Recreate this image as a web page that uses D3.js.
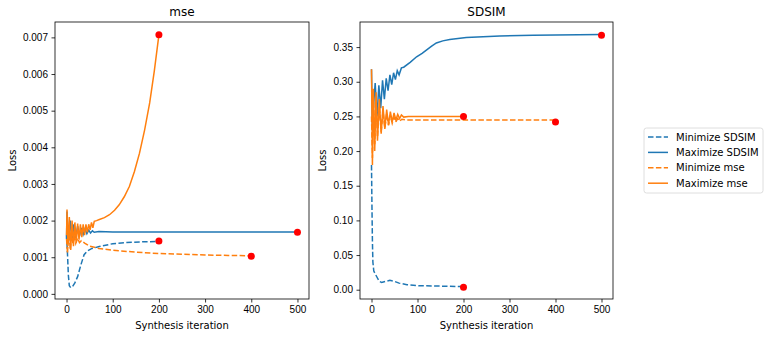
<!DOCTYPE html>
<meta charset="utf-8">
<svg width="769" height="338"></svg>

<style>
body { margin: 0; background: #fff; }
svg { display: block; font-family: "DejaVu Sans", sans-serif; }
.tick text { font-size: 10px; fill: #000; }
.tick line { stroke: #000; stroke-width: 0.8; }
.domain { display: none; }
.frame { fill: none; stroke: #000; stroke-width: 0.8; }
.loss-line { fill: none; stroke-width: 1.5; }
.dashed { stroke-dasharray: 5.5 2.4; }
</style>

<script src="https://d3js.org/d3.v7.min.js"></script>
<script>

// series names, in plot order
var seriesNames = ["Minimize SDSIM", "Maximize SDSIM", "Minimize mse", "Maximize mse"];
var seriesColors = ["#1f77b4", "#1f77b4", "#ff7f0e", "#ff7f0e"];
var seriesDashed = [true, false, true, false];

var xTicks = [0, 100, 200, 300, 400, 500];
var mseTicks = [0, 0.001, 0.002, 0.003, 0.004, 0.005, 0.006, 0.007];
var sdsimTicks = [0, 0.05, 0.10, 0.15, 0.20, 0.25, 0.30, 0.35];

// mse panel: [iteration, loss]
var mseMinSdsim = [[0,0.0016],[2,0.0011],[4,0.0005],[6,0.00022],[9,0.00017],[13,0.0002],[18,0.0003],
  [24,0.00047],[31,0.00079],[38,0.00107],[45,0.00117],[55,0.00124],[71,0.00129],[100,0.00137],
  [130,0.0014],[160,0.00142],[200,0.00143]];
var mseMaxSdsim = [[0,0.0015],[1,0.00225],[4,0.0014],[8,0.002],[12,0.00145],[16,0.0019],[20,0.00152],
  [24,0.00185],[28,0.00158],[32,0.0018],[36,0.00162],[40,0.00177],[44,0.00164],[48,0.00174],
  [52,0.00166],[56,0.00172],[60,0.00168],[70,0.0017],[100,0.00169],[500,0.00169]];
var mseMinMse = [[0,0.0015],[2,0.0011],[5,0.0018],[8,0.0012],[11,0.0017],[14,0.00135],[17,0.0016],
  [20,0.00138],[24,0.00152],[28,0.0014],[32,0.00145],[40,0.00138],[50,0.0013],[70,0.00124],
  [100,0.00119],[150,0.00114],[200,0.0011],[250,0.00108],[300,0.00106],[350,0.00105],[400,0.00104]];
var mseMaxMse = [[0,0.0016],[1,0.0023],[3,0.0013],[6,0.0021],[9,0.0012],[12,0.002],[15,0.0013],
  [18,0.00195],[21,0.0014],[24,0.00192],[27,0.00148],[30,0.0019],[33,0.00155],[36,0.0019],
  [39,0.0016],[42,0.0019],[45,0.00168],[48,0.0019],[51,0.00175],[54,0.00195],[57,0.0018],
  [60,0.00198],[65,0.002],[71,0.00203],[82,0.00208],[93,0.00216],[104,0.00228],[114,0.00243],
  [125,0.00265],[136,0.00293],[147,0.00334],[158,0.00384],[169,0.00447],[180,0.00521],
  [190,0.00608],[200,0.00707]];
var mseEnds = [[200,0.00144],[500,0.00168],[400,0.00103],[200,0.00707]];

// SDSIM panel: [iteration, loss]
var sdsimMinSdsim = [[0,0.18],[1,0.12],[2,0.07],[3,0.04],[5,0.027],[8,0.023],[12,0.018],[17,0.012],
  [22,0.0105],[30,0.012],[40,0.0135],[50,0.012],[60,0.0095],[77,0.0072],[102,0.0058],[150,0.0052],
  [200,0.0045]];
var sdsimMaxSdsim = [[0,0.318],[2,0.23],[5,0.27],[8,0.298],[12,0.25],[16,0.295],[20,0.262],[24,0.302],
  [28,0.275],[32,0.305],[36,0.287],[40,0.31],[44,0.296],[48,0.313],[52,0.303],[56,0.316],[60,0.31],
  [65,0.32],[70,0.321],[84,0.328],[98,0.336],[110,0.341],[120,0.346],[130,0.351],[141,0.356],
  [155,0.359],[170,0.361],[206,0.364],[279,0.366],[351,0.367],[500,0.368]];
var sdsimMinMse = [[0,0.25],[2,0.19],[4,0.28],[7,0.21],[10,0.275],[13,0.22],[17,0.265],[21,0.228],
  [25,0.258],[29,0.233],[33,0.254],[37,0.237],[41,0.251],[45,0.24],[49,0.249],[53,0.242],[57,0.247],
  [61,0.243],[66,0.246],[75,0.245],[400,0.245]];
var sdsimMaxMse = [[0,0.318],[2,0.18],[4,0.29],[7,0.2],[10,0.285],[13,0.215],[17,0.275],[21,0.225],
  [25,0.265],[29,0.232],[33,0.26],[37,0.238],[41,0.257],[45,0.242],[49,0.255],[53,0.245],[57,0.253],
  [61,0.247],[65,0.252],[70,0.249],[80,0.25],[200,0.25]];
var sdsimEnds = [[200,0.0035],[500,0.367],[400,0.242],[200,0.2498]];

var svg = d3.select("svg");

var panels = [
  {title: "mse", left: 55, right: 309, yDomain: [-0.00014, 0.00742], ticks: mseTicks, fmt: ".3f",
   series: [mseMinSdsim, mseMaxSdsim, mseMinMse, mseMaxMse], ends: mseEnds, labelX: 12},
  {title: "SDSIM", left: 360, right: 613, yDomain: [-0.0134, 0.3862], ticks: sdsimTicks, fmt: ".2f",
   series: [sdsimMinSdsim, sdsimMaxSdsim, sdsimMinMse, sdsimMaxMse], ends: sdsimEnds, labelX: 322}
];
var plotTop = 22, plotBottom = 299;

panels.forEach(function(p) {
  var x = d3.scaleLinear().domain([-25, 525]).range([p.left, p.right]);
  var y = d3.scaleLinear().domain(p.yDomain).range([plotBottom, plotTop]);
  var g = svg.append("g");

  var line = d3.line()
      .x(function(d) { return x(d[0]); })
      .y(function(d) { return y(d[1]); });

  p.series.forEach(function(s, i) {
    g.append("path")
        .datum(s)
        .attr("class", "loss-line" + (seriesDashed[i] ? " dashed" : ""))
        .attr("stroke", seriesColors[i])
        .attr("d", line);
  });

  g.selectAll(".end-dot")
    .data(p.ends)
    .enter().append("circle")
      .attr("class", "end-dot")
      .attr("cx", function(d) { return x(d[0]); })
      .attr("cy", function(d) { return y(d[1]); })
      .attr("r", 3.5)
      .attr("fill", "red");

  g.append("g")
      .attr("transform", "translate(0," + plotBottom + ")")
      .call(d3.axisBottom(x).tickValues(xTicks).tickSize(3.5).tickPadding(3.5));

  g.append("g")
      .attr("transform", "translate(" + p.left + ",0)")
      .call(d3.axisLeft(y).tickValues(p.ticks).tickFormat(d3.format(p.fmt)).tickSize(3.5).tickPadding(3.5));

  g.append("rect")
      .attr("class", "frame")
      .attr("x", p.left).attr("y", plotTop)
      .attr("width", p.right - p.left).attr("height", plotBottom - plotTop);

  g.append("text")
      .attr("x", (p.left + p.right) / 2).attr("y", 16)
      .attr("text-anchor", "middle")
      .style("font-size", "12px")
      .text(p.title);

  g.append("text")
      .attr("x", (p.left + p.right) / 2).attr("y", 329)
      .attr("text-anchor", "middle")
      .style("font-size", "10px")
      .text("Synthesis iteration");

  g.append("text")
      .attr("transform", "translate(" + (p.labelX + 4) + "," + ((plotTop + plotBottom) / 2) + ") rotate(-90)")
      .attr("text-anchor", "middle")
      .style("font-size", "10px")
      .text("Loss");
});

// legend
var legend = svg.append("g").attr("transform", "translate(644,128)");
legend.append("rect")
    .attr("width", 119).attr("height", 65)
    .attr("rx", 2.5)
    .attr("fill", "#fff")
    .attr("stroke", "#d6d6d6")
    .attr("stroke-width", 0.8);

var item = legend.selectAll(".item")
  .data(seriesNames)
  .enter().append("g")
    .attr("class", "item")
    .attr("transform", function(d, i) { return "translate(0," + (9 + i * 15.4) + ")"; });

item.append("line")
    .attr("x1", 4).attr("x2", 24)
    .attr("stroke", function(d, i) { return seriesColors[i]; })
    .attr("stroke-width", 1.5)
    .attr("stroke-dasharray", function(d, i) { return seriesDashed[i] ? "5.5 2.4" : null; });

item.append("text")
    .attr("x", 32).attr("y", 3.5)
    .style("font-size", "10px")
    .attr("fill", "#000")
    .text(function(d) { return d; });

</script>
